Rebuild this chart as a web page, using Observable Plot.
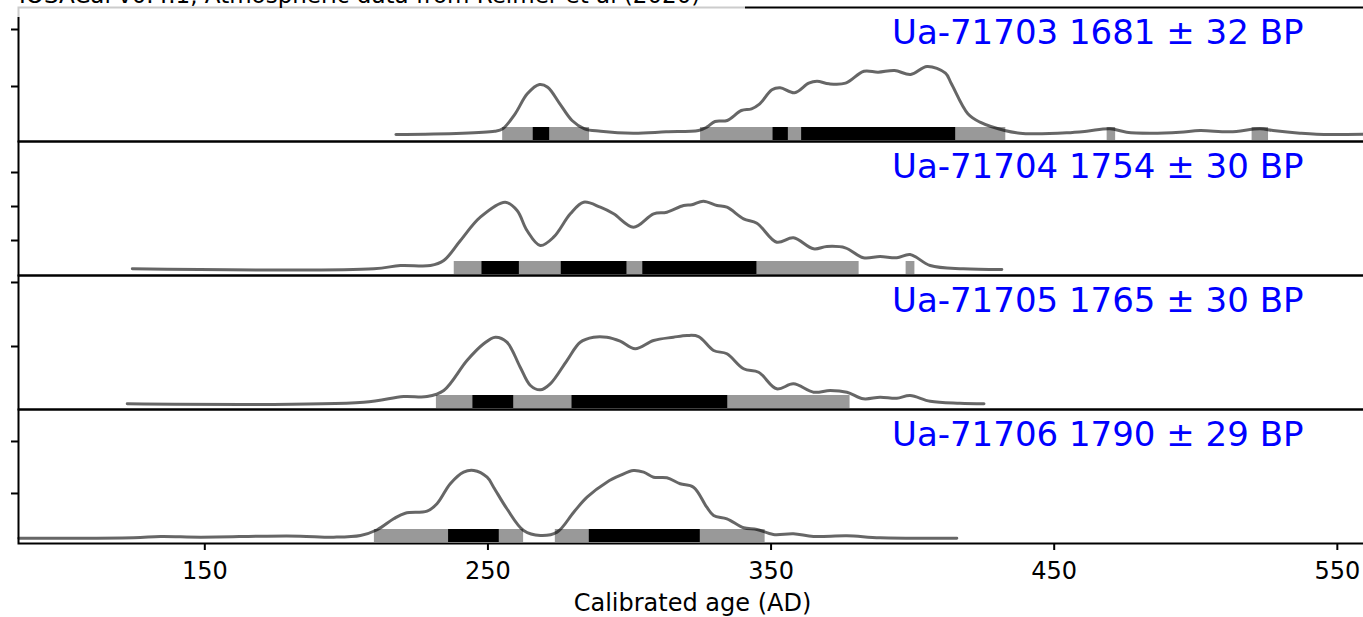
<!DOCTYPE html>
<html><head><meta charset="utf-8">
<script src="https://cdn.jsdelivr.net/npm/d3@7"></script>
<script src="https://cdn.jsdelivr.net/npm/@observablehq/plot@0.6"></script>
<style>
body{margin:0;background:#fff;font-family:"DejaVu Sans";}
#chart{position:relative;width:1363px;height:617px;overflow:hidden;background:#fff;}
#title{position:absolute;left:0;top:0;width:745px;height:17px;background:rgba(255,255,255,0.8);overflow:hidden;z-index:5}
#title span{position:absolute;left:19px;top:-16px;font-size:23px;line-height:23px;white-space:nowrap;color:#000}
</style></head><body>
<div id="chart"><div id="title"><span>IOSACal v0.4.1, Atmospheric data from Reimer et al (2020)</span></div></div>
<script>
// ---- data (calendar year AD, relative probability) ----
const labels = ["Ua-71703 1681 ± 32 BP", "Ua-71704 1754 ± 30 BP", "Ua-71705 1765 ± 30 BP", "Ua-71706 1790 ± 29 BP"];
const xTicks = [150, 250, 350, 450, 550];

const curve71703 = [[217.5,0.158],[252.4,0.216],[255.2,0.258],[259.6,0.521],[263.9,0.872],[268.2,1.035],[271.1,0.988],[275.4,0.696],[279.7,0.404],[284.1,0.258],[289.8,0.216],[301.3,0.181],[312.9,0.205],[324.4,0.228],[327.3,0.286],[330.2,0.386],[334.5,0.404],[339.5,0.579],[343.1,0.609],[346.0,0.696],[350.3,0.942],[353.2,0.977],[358.3,0.889],[363.3,1.058],[366.2,1.093],[370.5,1.047],[376.3,1.058],[382.8,1.268],[387.8,1.251],[393.6,1.281],[399.3,1.211],[405.1,1.351],[411.6,1.233],[413.7,1.047],[419.5,0.521],[423.8,0.374],[432.5,0.228],[437.9,0.181],[442.5,0.170],[454.4,0.188],[461.5,0.216],[469.7,0.258],[475.6,0.198],[483.8,0.181],[494.4,0.198],[501.5,0.228],[512.1,0.205],[522.7,0.258],[527.3,0.228],[536.8,0.181],[542.7,0.163],[559.0,0.163]];
const curve71704 = [[124.4,0.168],[209.7,0.168],[219.1,0.265],[229.7,0.265],[234.4,0.412],[240.3,1.0],[247.3,1.685],[256.1,2.126],[260.3,1.882],[263.8,1.294],[268.5,0.853],[273.2,1.097],[279.1,1.785],[283.8,2.126],[289.7,1.979],[294.4,1.785],[301.4,1.391],[308.5,1.785],[313.2,1.832],[319.1,2.029],[322.0,2.05],[326.1,2.156],[330.9,2.029],[334.4,1.979],[340.3,1.638],[345.0,1.509],[352.0,0.95],[357.9,1.079],[365.0,0.756],[369.7,0.824],[376.2,0.785],[382.6,0.491],[388.5,0.529],[394.4,0.491],[399.1,0.588],[406.2,0.265],[417.9,0.168],[431.5,0.147]];
const curve71705 = [[122.6,0.105],[206.1,0.130],[220.2,0.219],[228.5,0.219],[234.4,0.313],[242.6,0.781],[248.5,1.042],[252.6,1.145],[256.7,1.067],[261.4,0.677],[265.0,0.391],[268.5,0.323],[272.0,0.417],[277.9,0.781],[282.6,1.067],[287.3,1.145],[292.0,1.145],[296.7,1.083],[302.0,0.964],[308.5,1.094],[315.5,1.145],[320.3,1.172],[324.4,1.156],[329.7,0.938],[334.4,0.886],[340.3,0.652],[345.6,0.598],[352.0,0.339],[357.9,0.417],[365.0,0.286],[370.9,0.313],[376.8,0.286],[382.6,0.183],[388.5,0.208],[394.4,0.192],[399.1,0.234],[406.2,0.145],[416.7,0.114],[425.2,0.105]];
const curve71706 = [[84.3,0.140],[124.9,0.148],[134.4,0.173],[148.5,0.160],[172.0,0.179],[183.8,0.179],[195.5,0.160],[205.0,0.192],[210.9,0.302],[216.7,0.513],[220.8,0.621],[228.5,0.660],[232.0,0.802],[236.7,1.187],[241.4,1.410],[245.0,1.442],[249.7,1.313],[252.0,1.121],[256.7,0.706],[262.6,0.288],[268.5,0.192],[274.4,0.256],[280.3,0.640],[285.0,0.929],[292.0,1.217],[296.7,1.346],[301.4,1.442],[305.0,1.410],[308.5,1.313],[313.2,1.302],[317.9,1.187],[322.6,1.121],[327.3,0.737],[329.7,0.577],[334.4,0.513],[340.3,0.340],[345.0,0.308],[350.8,0.212],[357.9,0.225],[365.0,0.173],[376.8,0.187],[388.5,0.148],[415.6,0.140]];

// 95% (grey) and 68% (black) ranges
const range95_71703 = [[255.2,285.9],[325.1,432.9],[468.7,471.7],[519.9,525.7]];
const range68_71703 = [[266.0,271.8],[350.7,356.1],[360.8,415.2]];
const range95_71704 = [[238.1,381.1],[397.7,400.8]];
const range68_71704 = [[247.9,261.1],[275.9,299.1],[304.7,345.0]];
const range95_71705 = [[231.8,377.9]];
const range68_71705 = [[244.7,259.1],[279.7,334.7]];
const range95_71706 = [[209.9,262.6],[273.8,347.9]];
const range68_71706 = [[236.1,254.0],[285.8,325.0]];

const yTicks71703 = [1, 2];
const yTicks71704 = [1, 2, 3];
const yTicks71705 = [1, 2];
const yTicks71706 = [1, 2];

// ---- layout / drawing ----
const panels = [
  {label: labels[0], curve: curve71703, grey: range95_71703, black: range68_71703, ticks: yTicks71703, domain: [0.035, 2.386]},
  {label: labels[1], curve: curve71704, grey: range95_71704, black: range68_71704, ticks: yTicks71704, domain: [-0.029, 3.912]},
  {label: labels[2], curve: curve71705, grey: range95_71705, black: range68_71705, ticks: yTicks71705, domain: [0.016, 2.109]},
  {label: labels[3], curve: curve71706, grey: range95_71706, black: range68_71706, ticks: yTicks71706, domain: [0.038, 2.615]}
];
const xDomain = [84.2, 560.3];
const chart = document.getElementById("chart");
const panelTop = 7, panelH = 134, axisSpace = 74;

panels.forEach((p, i) => {
  const last = i === panels.length - 1;
  const h = panelH + 2 + (last ? axisSpace : 0);
  const marks = [
    Plot.barX(p.grey, {x1: d => d[0], x2: d => d[1], fill: "#999999", insetTop: 120, insetBottom: 1}),
    Plot.barX(p.black, {x1: d => d[0], x2: d => d[1], fill: "#000000", insetTop: 120, insetBottom: 1}),
    Plot.line(p.curve, {x: d => d[0], y: d => d[1], stroke: "#000", strokeOpacity: 0.6, strokeWidth: 3, curve: "catmull-rom"}),
    Plot.axisY({ticks: p.ticks, tickSize: 7, tickFormat: () => "", strokeWidth: 2}),
    Plot.frame({stroke: "#000", strokeWidth: 2}),
    Plot.text([p.label], {frameAnchor: "top-right", text: d => d, textAnchor: "end", lineAnchor: "top", dx: -63, dy: 12.6, fill: "#0000ff", fontSize: 34})
  ];
  if (last) marks.push(Plot.axisX({ticks: xTicks, tickSize: 7, tickPadding: 11.5, strokeWidth: 2, fontSize: 24,
    label: "Calibrated age (AD)", labelAnchor: "center", labelArrow: "none", labelOffset: 67.5}));
  const svg = Plot.plot({
    width: 1366, height: h,
    marginLeft: 18, marginRight: 0, marginTop: 1, marginBottom: 1 + (last ? axisSpace : 0),
    x: last ? {domain: xDomain} : {domain: xDomain, axis: null},
    y: {domain: p.domain},
    style: {fontFamily: "DejaVu Sans", fontSize: "24px", background: "transparent", overflow: "visible", color: "#000"},
    marks
  });
  svg.style.position = "absolute";
  svg.style.left = "0px";
  svg.style.top = (panelTop + i * panelH - 1) + "px";
  svg.style.maxWidth = "none";
  chart.appendChild(svg);
});
</script>
</body></html>
